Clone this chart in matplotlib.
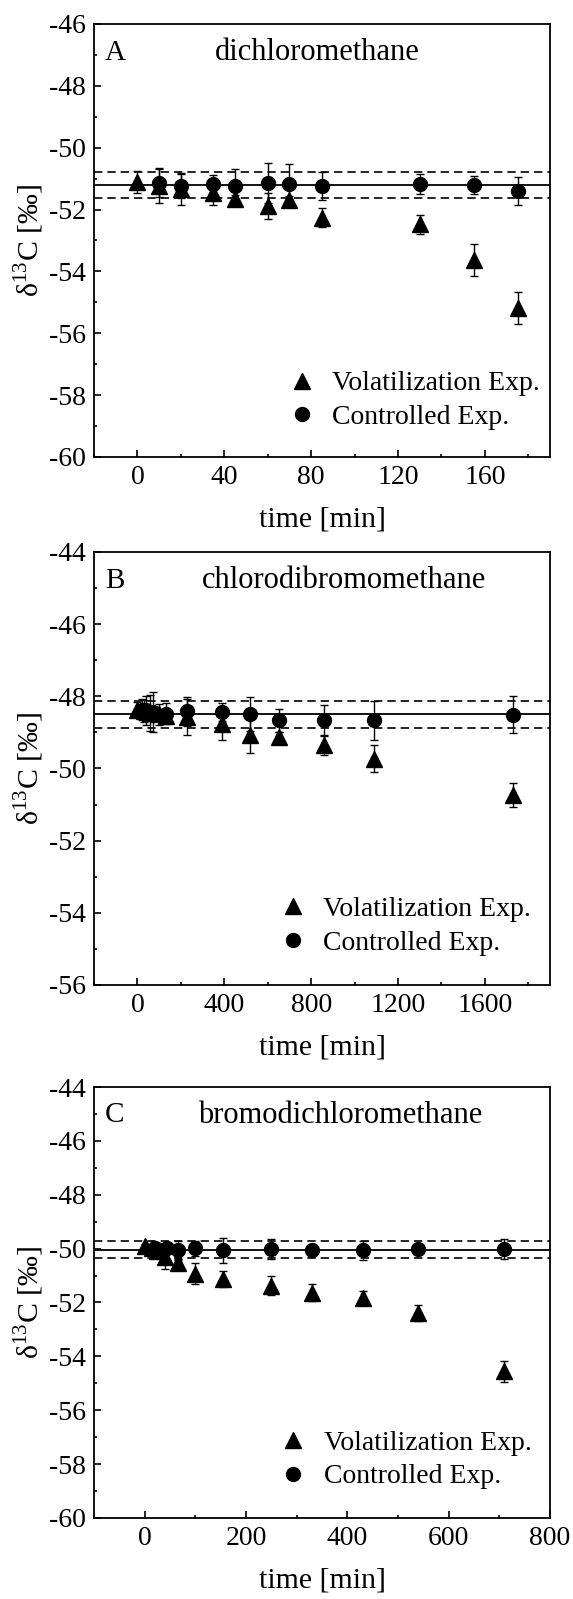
import numpy as np
import matplotlib
matplotlib.use("Agg")
import matplotlib.pyplot as plt
from matplotlib.ticker import MultipleLocator
from matplotlib.lines import Line2D

plt.rcParams['font.family'] = ['Liberation Serif', 'DejaVu Serif']
plt.rcParams['mathtext.fontset'] = 'custom'
plt.rcParams['mathtext.rm'] = 'Liberation Serif'
plt.rcParams['axes.unicode_minus'] = False

# A : dichloromethane
tA_v = [0, 10, 20, 35, 45, 60, 70, 85, 130, 155, 175]
dA_v = [-51.12, -51.23, -51.34, -51.45, -51.65, -51.88, -51.68, -52.26, -52.48, -53.63, -55.17]
eA_v = [0.36, 0.55, 0.50, 0.40, 0.12, 0.43, 0.12, 0.32, 0.30, 0.52, 0.52]
tA_c = [10, 20, 35, 45, 60, 70, 85, 130, 155, 175]
dA_c = [-51.14, -51.23, -51.17, -51.23, -51.14, -51.17, -51.23, -51.17, -51.20, -51.40]
eA_c = [0.47, 0.40, 0.28, 0.55, 0.65, 0.63, 0.45, 0.33, 0.30, 0.45]
refA = [-51.21, -50.77, -51.64]   # mean, mean+sd, mean-sd

# B : chlorodibromomethane
tB_v = [0, 30, 60, 100, 130, 230, 390, 520, 650, 860, 1090, 1730]
dB_v = [-48.37, -48.40, -48.45, -48.50, -48.55, -48.58, -48.77, -49.06, -49.13, -49.34, -49.73, -50.73]
eB_v = [0.20, 0.30, 0.50, 0.30, 0.20, 0.50, 0.45, 0.50, 0.15, 0.28, 0.38, 0.33]
tB_c = [20, 40, 70, 130, 230, 390, 520, 650, 860, 1090, 1730]
dB_c = [-48.37, -48.39, -48.43, -48.48, -48.41, -48.43, -48.48, -48.67, -48.67, -48.67, -48.51]
eB_c = [0.30, 0.40, 0.55, 0.30, 0.40, 0.25, 0.47, 0.33, 0.43, 0.55, 0.52]
refB = [-48.50, -48.12, -48.88]

# C : bromodichloromethane
tC_v = [0, 15, 25, 40, 65, 100, 155, 250, 330, 430, 540, 710]
dC_v = [-49.92, -49.98, -50.10, -50.30, -50.55, -50.93, -51.12, -51.38, -51.63, -51.82, -52.40, -54.56]
eC_v = [0.10, 0.15, 0.20, 0.45, 0.15, 0.40, 0.30, 0.35, 0.30, 0.25, 0.30, 0.38]
tC_c = [20, 30, 45, 65, 100, 155, 250, 330, 430, 540, 710]
dC_c = [-49.98, -50.05, -49.98, -50.07, -49.98, -50.07, -50.02, -50.07, -50.07, -50.02, -50.02]
eC_c = [0.15, 0.15, 0.20, 0.35, 0.28, 0.45, 0.38, 0.15, 0.34, 0.15, 0.37]
refC = [-50.04, -49.72, -50.34]

panels = [
    # letter, name, data, ref, xlim, ylim, xstep, rect, name_x, leg_anchor
    ("A", "dichloromethane", (tA_v, dA_v, eA_v, tA_c, dA_c, eA_c), refA,
     (-20, 190), (-60, -46), 40, [0.164, 0.7142, 0.796, 0.2708], 0.49, (0.425, 0.062)),
    ("B", "chlorodibromomethane", (tB_v, dB_v, eB_v, tB_c, dB_c, eB_c), refB,
     (-200, 1900), (-56, -44), 400, [0.164, 0.3840, 0.796, 0.2708], 0.549, (0.405, 0.068)),
    ("C", "bromodichloromethane", (tC_v, dC_v, eC_v, tC_c, dC_c, eC_c), refC,
     (-100, 800), (-60, -44), 200, [0.164, 0.0507, 0.796, 0.2695], 0.54, (0.407, 0.066)),
]

fig = plt.figure(figsize=(5.73, 15.99), dpi=100)

for letter, name, d, ref, xl, yl, xstep, rect, nx, anc in panels:
    ax = fig.add_axes(rect)
    tv, dv, ev, tc, dc, ec = d
    ax.axhline(ref[0], color="k", lw=1.3, zorder=1)
    ax.axhline(ref[1], color="k", lw=1.2, ls=(0, (5, 3)), zorder=1)
    ax.axhline(ref[2], color="k", lw=1.2, ls=(0, (5, 3)), zorder=1)
    ax.errorbar(tv, dv, yerr=ev, fmt="^", color="k", ms=11, capsize=3, elinewidth=1,
                capthick=1, zorder=3)
    ax.errorbar(tc, dc, yerr=ec, fmt="o", color="k", ms=10, capsize=3, elinewidth=1,
                capthick=1, zorder=4)
    ax.set_xlim(xl); ax.set_ylim(yl)
    ax.xaxis.set_major_locator(MultipleLocator(xstep))
    ax.xaxis.set_minor_locator(MultipleLocator(xstep / 2))
    ax.yaxis.set_major_locator(MultipleLocator(2))
    ax.yaxis.set_minor_locator(MultipleLocator(1))
    ax.tick_params(which="both", direction="in", top=False, right=False, labelsize=20, width=1.2)
    ax.tick_params(which="major", length=5, pad=6)
    ax.tick_params(which="minor", length=2.5)
    for s in ax.spines.values():
        s.set_linewidth(1.3)
    ax.set_xlabel("time [min]", fontsize=21.5, labelpad=12)
    ax.set_ylabel(r"δ$^{\mathrm{13}}$C [‰]", fontsize=21.5, labelpad=2)
    ax.text(0.024, 0.934, letter, transform=ax.transAxes, fontsize=21, ha="left", va="center")
    ax.text(nx, 0.934, name, transform=ax.transAxes, fontsize=22, ha="center", va="center")
    hv = Line2D([], [], marker="^", ls="none", color="k", ms=11)
    hc = Line2D([], [], marker="o", ls="none", color="k", ms=10)
    ax.legend([hv, hc], ["Volatilization Exp.", "Controlled Exp."], loc="lower left",
              bbox_to_anchor=anc, frameon=False, fontsize=20,
              handlelength=1.0, handletextpad=0.6, labelspacing=0.3,
              borderpad=0, borderaxespad=0)

plt.savefig("out.png", dpi=100)
